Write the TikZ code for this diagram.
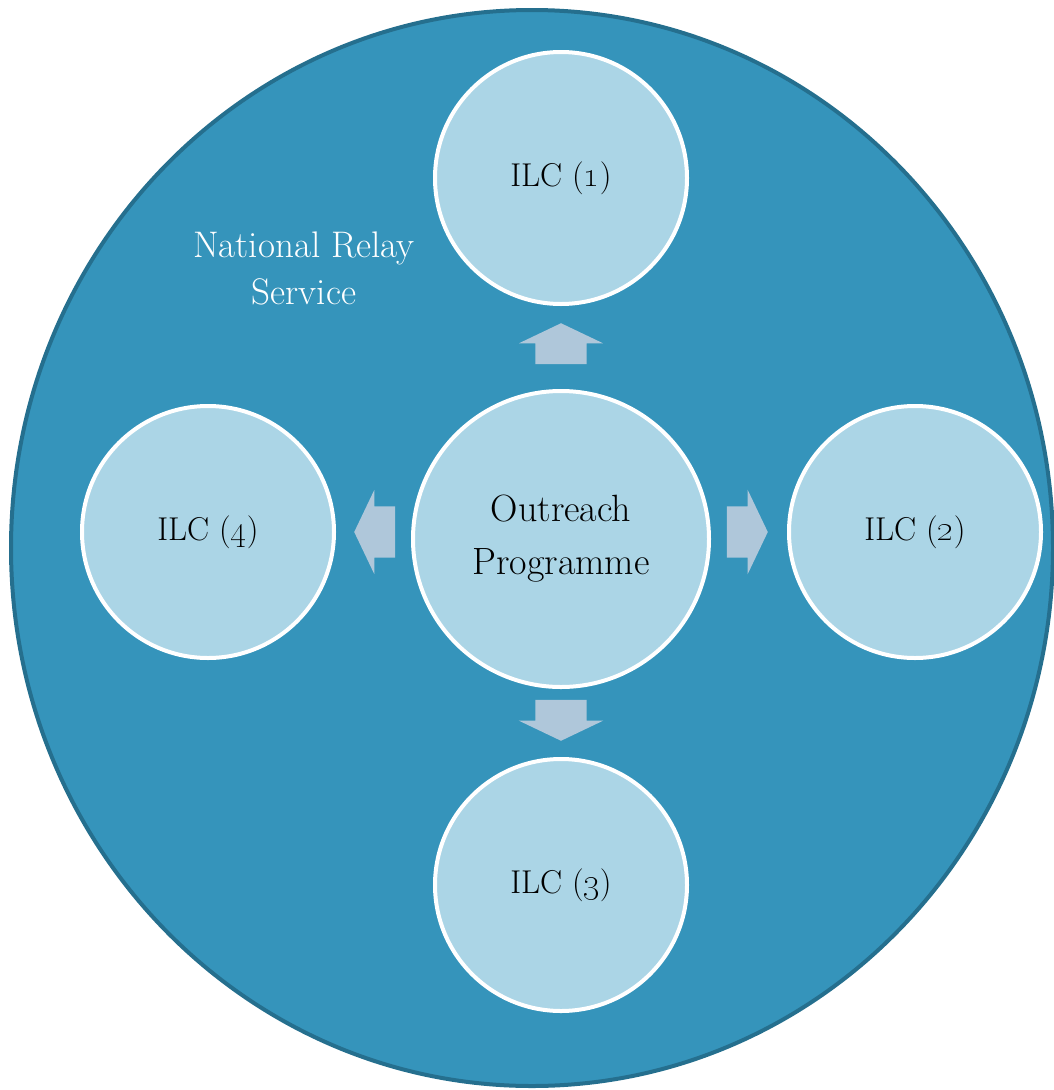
\documentclass[tikz,border=0pt]{standalone}
\usetikzlibrary{shapes.geometric,shapes.arrows}
\definecolor{relayblue}{RGB}{53,148,187}
\definecolor{relayedge}{RGB}{37,111,142}
\definecolor{ilcfill}{RGB}{171,213,230}
\definecolor{arrowfill}{RGB}{175,199,218}
\begin{document}
\begin{tikzpicture}[x=1pt, y=-1pt]
        % Styles
        \tikzstyle{service} = [ellipse, draw=relayedge, line width=4pt, fill=relayblue, minimum width=1042pt, minimum height=1076pt, inner sep=0pt]
        \tikzstyle{centre} = [circle, draw=white, line width=4pt, fill=ilcfill, minimum size=296pt, inner sep=0pt, align=center, font=\fontsize{38}{53}\selectfont]
        \tikzstyle{ilc} = [circle, draw=white, line width=4pt, fill=ilcfill, minimum size=252pt, inner sep=0pt, font=\fontsize{33}{36}\selectfont]
        \tikzstyle{blockarrow} = [single arrow, fill=arrowfill, inner xsep=0pt, inner ysep=25.5pt, minimum height=41pt, single arrow head extend=16.5pt, single arrow tip angle=129, single arrow head indent=0pt, anchor=tip]

        \useasboundingbox (0,0) rectangle (1053,1090);

        % Outer service
        \node (nrs) [service] at (532,548) {};
        \node (nrslabel) [text=white, align=center, font=\fontsize{37}{47}\selectfont] at (304,268) {National Relay\\Service};

        % Circles
        \node (out) [centre] at (561,539) {Outreach\\Programme};
        \node (ilc1) [ilc] at (561,178) {ILC (\oldstylenums{1})};
        \node (ilc2) [ilc] at (915,532) {ILC (\oldstylenums{2})};
        \node (ilc3) [ilc] at (561,885) {ILC (\oldstylenums{3})};
        \node (ilc4) [ilc] at (208,532) {ILC (\oldstylenums{4})};

        % Block arrows
        \node (arrup) [blockarrow, rotate=90] at (561,323) {};
        \node (arrright) [blockarrow] at (768,532) {};
        \node (arrdown) [blockarrow, rotate=-90] at (561,741) {};
        \node (arrleft) [blockarrow, rotate=180] at (354,532) {};

    \end{tikzpicture}
\end{document}
